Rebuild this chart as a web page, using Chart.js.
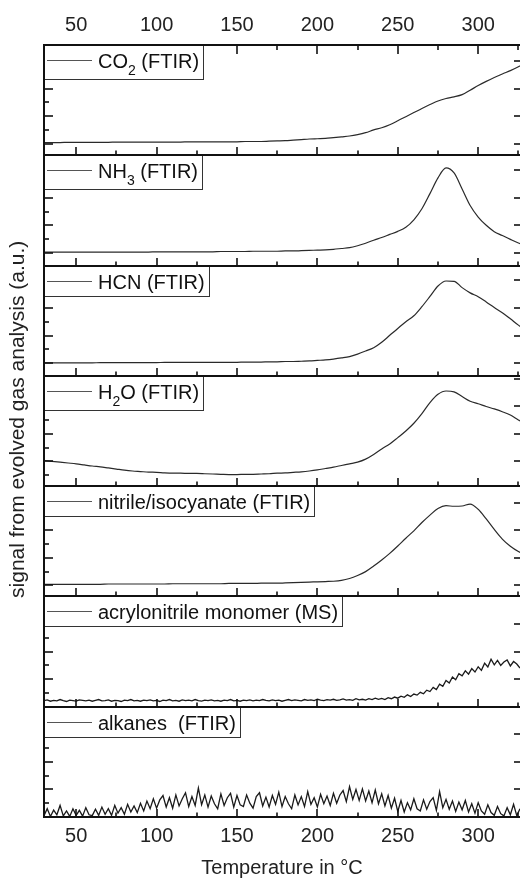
<!DOCTYPE html>
<html>
<head>
<meta charset="utf-8">
<script src="https://cdn.jsdelivr.net/npm/chart.js@4"></script>
<style>
  html, body { margin: 0; padding: 0; background: #fff; }
  #wrap { width: 520px; height: 880px; }
</style>
</head>
<body>
<div id="wrap"><canvas id="grafico" width="520" height="880"></canvas></div>
<script>
// temperatures (°C), 5 degree grid for the FTIR curves
const temps = [30,35,40,45,50,55,60,65,70,75,80,85,90,95,100,105,110,115,120,125,
  130,135,140,145,150,155,160,165,170,175,180,185,190,195,200,205,210,215,220,225,
  230,235,240,245,250,255,260,265,270,275,280,285,290,295,300,305,310,315,320,325,330];

const co2 = [0.04,0.04,0.04,0.05,0.05,0.05,0.05,0.05,0.05,0.06,
  0.06,0.06,0.06,0.06,0.06,0.06,0.06,0.06,0.07,0.07,
  0.07,0.07,0.07,0.07,0.07,0.08,0.08,0.08,0.09,0.10,
  0.11,0.13,0.15,0.17,0.18,0.19,0.22,0.25,0.28,0.33,
  0.40,0.50,0.58,0.69,0.83,0.98,1.13,1.28,1.42,1.55,
  1.64,1.70,1.78,1.94,2.11,2.26,2.40,2.53,2.65,2.79,2.95];

const nh3 = [0.03,0.03,0.03,0.03,0.03,0.03,0.03,0.03,0.03,0.03,
  0.03,0.03,0.03,0.03,0.04,0.04,0.04,0.04,0.04,0.04,
  0.04,0.04,0.05,0.05,0.05,0.05,0.06,0.06,0.06,0.06,
  0.07,0.07,0.08,0.09,0.10,0.11,0.13,0.16,0.19,0.26,
  0.35,0.46,0.56,0.67,0.78,0.93,1.20,1.60,2.15,2.72,
  3.08,2.90,2.32,1.72,1.30,1.00,0.77,0.63,0.49,0.36,0.26];

const hcn = [0.01,0.01,0.01,0.01,0.01,0.01,0.01,0.02,0.02,0.02,
  0.02,0.02,0.02,0.02,0.02,0.03,0.03,0.03,0.03,0.03,
  0.03,0.03,0.03,0.03,0.03,0.04,0.04,0.04,0.05,0.05,
  0.06,0.06,0.07,0.08,0.10,0.12,0.15,0.19,0.24,0.33,
  0.44,0.56,0.76,1.01,1.26,1.50,1.72,2.05,2.42,2.80,
  2.98,2.97,2.74,2.55,2.41,2.22,2.02,1.83,1.61,1.38,1.18];

const h2o = [0.03,0.00,-0.03,-0.06,-0.09,-0.13,-0.17,-0.20,-0.24,-0.28,
  -0.32,-0.35,-0.37,-0.39,-0.40,-0.42,-0.43,-0.43,-0.44,-0.44,
  -0.45,-0.46,-0.47,-0.48,-0.48,-0.47,-0.47,-0.46,-0.45,-0.43,
  -0.42,-0.40,-0.38,-0.35,-0.31,-0.26,-0.21,-0.15,-0.09,-0.03,
  0.08,0.25,0.45,0.63,0.86,1.10,1.38,1.73,2.13,2.43,
  2.55,2.52,2.35,2.18,2.09,1.99,1.90,1.80,1.68,1.50,1.35];

const nitrile = [0.04,0.04,0.04,0.04,0.04,0.04,0.04,0.04,0.05,0.05,
  0.05,0.05,0.05,0.05,0.05,0.05,0.06,0.06,0.06,0.06,
  0.06,0.06,0.06,0.07,0.07,0.07,0.07,0.08,0.08,0.08,
  0.09,0.10,0.11,0.12,0.13,0.14,0.15,0.18,0.25,0.36,
  0.50,0.70,0.92,1.16,1.43,1.71,1.98,2.28,2.55,2.79,
  2.89,2.87,2.88,2.95,2.76,2.41,2.03,1.68,1.42,1.23,1.10];

// 2 degree grid for the noisy signals
const tempsFine = [30,32,34,36,38,40,42,44,46,48,
  50,52,54,56,58,60,62,64,66,68,
  70,72,74,76,78,80,82,84,86,88,
  90,92,94,96,98,100,102,104,106,108,
  110,112,114,116,118,120,122,124,126,128,
  130,132,134,136,138,140,142,144,146,148,
  150,152,154,156,158,160,162,164,166,168,
  170,172,174,176,178,180,182,184,186,188,
  190,192,194,196,198,200,202,204,206,208,
  210,212,214,216,218,220,222,224,226,228,
  230,232,234,236,238,240,242,244,246,248,
  250,252,254,256,258,260,262,264,266,268,
  270,272,274,276,278,280,282,284,286,288,
  290,292,294,296,298,300,302,304,306,308,
  310,312,314,316,318,320,322,324,326,328,330];

const acrylonitrile = [0.22,0.25,0.20,0.23,0.21,0.26,0.22,0.19,0.24,0.22,
  0.20,0.25,0.23,0.21,0.24,0.20,0.23,0.26,0.21,0.22,
  0.25,0.20,0.23,0.22,0.19,0.24,0.22,0.26,0.21,0.23,
  0.20,0.24,0.22,0.25,0.21,0.23,0.19,0.24,0.22,0.26,
  0.21,0.23,0.20,0.25,0.22,0.24,0.21,0.26,0.22,0.20,
  0.24,0.22,0.25,0.21,0.23,0.20,0.24,0.22,0.26,0.21,
  0.23,0.20,0.24,0.22,0.25,0.21,0.24,0.22,0.26,0.23,
  0.21,0.25,0.22,0.24,0.20,0.23,0.26,0.22,0.25,0.23,
  0.21,0.26,0.23,0.25,0.22,0.27,0.24,0.22,0.26,0.24,
  0.27,0.23,0.25,0.28,0.24,0.26,0.23,0.29,0.25,0.27,
  0.24,0.29,0.26,0.31,0.27,0.30,0.26,0.33,0.29,0.35,
  0.31,0.38,0.34,0.43,0.37,0.46,0.42,0.52,0.47,0.60,
  0.55,0.70,0.62,0.82,0.74,0.95,0.86,1.08,0.98,1.20,
  1.12,1.30,1.18,1.38,1.26,1.45,1.32,1.58,1.44,1.72,
  1.52,1.68,1.50,1.62,1.70,1.48,1.64,1.55,1.40,1.52,1.30];

const alkanes = [0.05,0.30,0.02,0.25,0.08,0.42,0.04,0.22,0.02,0.30,
  0.06,0.24,0.03,0.34,0.08,0.05,0.28,0.06,0.36,0.10,
  0.30,0.06,0.42,0.14,0.34,0.10,0.46,0.18,0.40,0.16,
  0.50,0.22,0.58,0.30,0.66,0.32,0.62,0.78,0.36,0.70,
  0.32,0.80,0.40,0.66,0.88,0.38,0.74,0.42,1.05,0.45,
  0.80,0.36,0.76,0.48,0.30,0.84,0.42,0.70,0.86,0.36,
  0.78,0.44,0.38,0.80,0.50,0.32,0.74,0.88,0.40,0.72,
  0.36,0.78,0.46,0.90,0.38,0.74,0.48,0.30,0.80,0.44,
  0.74,0.38,0.92,0.46,0.70,0.36,0.82,0.48,0.76,0.42,
  0.86,0.50,0.80,0.96,0.56,1.10,0.64,1.00,0.60,1.02,
  0.58,0.94,0.52,0.98,0.48,0.84,0.40,0.78,0.32,0.68,
  0.20,0.60,0.18,0.52,0.26,0.66,0.30,0.22,0.62,0.28,
  0.56,0.70,0.24,0.92,0.34,0.64,0.28,0.58,0.20,0.54,
  0.26,0.60,0.18,0.48,0.14,0.52,0.22,0.10,0.44,0.16,
  0.06,0.38,0.12,0.04,0.34,0.08,0.46,0.05,0.30,0.03,0.22];

const panelLabels = ['CO₂ (FTIR)', 'NH₃ (FTIR)', 'HCN (FTIR)', 'H₂O (FTIR)',
  'nitrile/isocyanate (FTIR)', 'acrylonitrile monomer (MS)', 'alkanes  (FTIR)'];
const panelMin = [-0.42, -0.46, -0.46, -0.9, -0.4, 0, 0];
const panelSpan = 4;

const xMajor = [50, 100, 150, 200, 250, 300];
const xMinor = [75, 125, 175, 225, 275, 325];

const seriesData = [co2, nh3, hcn, h2o, nitrile, acrylonitrile, alkanes];
const seriesTemps = [temps, temps, temps, temps, temps, tempsFine, tempsFine];

const FONT = '"Liberation Sans", Arial, sans-serif';

// datasets, one per panel
const datasets = seriesData.map((vals, i) => ({
  label: panelLabels[i],
  data: vals.map((v, k) => ({ x: seriesTemps[i][k], y: v })),
  xAxisID: 'x',
  yAxisID: 'y' + i,
  borderColor: i < 5 ? '#2a2a2a' : '#1a1a1a',
  borderWidth: i < 5 ? 1.2 : 1.3,
  pointRadius: 0,
  fill: false,
  cubicInterpolationMode: i < 5 ? 'monotone' : 'default',
  tension: 0
}));

const yScales = {};
panelLabels.forEach((lab, i) => {
  yScales['y' + i] = {
    type: 'linear',
    position: 'left',
    stack: 'panels',
    stackWeight: 1,
    weight: panelLabels.length - i,
    min: panelMin[i],
    max: panelMin[i] + panelSpan,
    afterBuildTicks: s => {
      const t = [];
      for (let v = Math.ceil(s.min * 2) / 2; v <= s.max + 1e-9; v += 0.5) t.push({ value: v });
      s.ticks = t;
    },
    afterFit: s => { s.width = 44; },
    ticks: { display: false },
    grid: { display: false, drawTicks: false },
    border: { display: false },
    title: {
      display: i === 3,
      // leading spaces lift the centred title a little, as in the original
      text: '    signal from evolved gas analysis (a.u.)',
      color: '#222',
      font: { family: FONT, size: 21 },
      padding: { top: 6, bottom: 0 }
    }
  };
});

function xAxis(position, height, pad) {
  return {
    type: 'linear',
    position: position,
    min: 30,
    max: 326,
    afterBuildTicks: s => { s.ticks = xMajor.map(v => ({ value: v })); },
    afterFit: s => { s.height = height; },
    ticks: { color: '#222', font: { family: FONT, size: 20 }, padding: pad, autoSkip: false, maxRotation: 0, minRotation: 0 },
    grid: { display: false, drawTicks: false },
    border: { display: false },
    title: {
      display: position === 'bottom',
      text: 'Temperature in °C',
      color: '#222',
      font: { family: FONT, size: 20 },
      padding: { top: 0, bottom: 0 }
    }
  };
}

function drawLegend(ctx, label, top, left) {
  const subs = '₀₁₂₃₄₅₆₇₈₉';
  // split label into normal / subscript runs
  const runs = [];
  for (const ch of label) {
    const si = subs.indexOf(ch);
    const sub = si >= 0;
    const c = sub ? String(si) : ch;
    if (runs.length && runs[runs.length - 1].sub === sub) runs[runs.length - 1].text += c;
    else runs.push({ text: c, sub: sub });
  }
  const hasSub = runs.some(r => r.sub);
  let w = 0;
  runs.forEach(r => {
    ctx.font = (r.sub ? '14px ' : '20px ') + FONT;
    r.w = ctx.measureText(r.text).width;
    w += r.w;
  });
  const textX = left + 54;
  const right = Math.round(textX + w + 4);
  const h = hasSub ? 34 : 30;
  ctx.fillStyle = '#fff';
  ctx.fillRect(left, top, right - left, h);
  ctx.strokeStyle = '#333';
  ctx.lineWidth = 1;
  ctx.strokeRect(left + 0.5, top + 0.5, right - left, h);
  // line sample
  ctx.strokeStyle = '#555';
  ctx.beginPath();
  ctx.moveTo(left + 3, top + 15.5);
  ctx.lineTo(left + 48, top + 15.5);
  ctx.stroke();
  // text
  ctx.fillStyle = '#111';
  ctx.textBaseline = 'alphabetic';
  ctx.textAlign = 'left';
  let x = textX;
  const base = top + 22.5;
  runs.forEach(r => {
    ctx.font = (r.sub ? '14px ' : '20px ') + FONT;
    ctx.fillText(r.text, x, r.sub ? base + 7 : base);
    x += r.w;
  });
}

const painelPlugin = {
  id: 'painel',
  afterDatasetsDraw(chart) {
    const ctx = chart.ctx;
    const area = chart.chartArea;
    const xs = chart.scales.x;
    ctx.save();
    ctx.strokeStyle = '#111';
    ctx.lineWidth = 1.6;
    const seg = (x1, y1, x2, y2) => {
      ctx.beginPath();
      ctx.moveTo(x1, y1);
      ctx.lineTo(x2, y2);
      ctx.stroke();
    };

    // ticks
    panelLabels.forEach((lab, i) => {
      const ys = chart.scales['y' + i];
      ys.ticks.forEach(t => {
        const py = Math.round(ys.getPixelForValue(t.value));
        const major = Math.abs(t.value - Math.round(t.value)) < 1e-6;
        seg(area.left, py, area.left + (major ? 9 : 5), py);
        if (major) seg(area.right - 6, py, area.right, py);
      });
      const bottom = Math.round(ys.bottom);
      xMajor.forEach(v => { const px = Math.round(xs.getPixelForValue(v)); seg(px, bottom, px, bottom - 8); });
      xMinor.forEach(v => { const px = Math.round(xs.getPixelForValue(v)); seg(px, bottom, px, bottom - 4.5); });
    });
    const top = Math.round(area.top);
    xMajor.forEach(v => { const px = Math.round(xs.getPixelForValue(v)); seg(px, top, px, top + 9); });
    xMinor.forEach(v => { const px = Math.round(xs.getPixelForValue(v)); seg(px, top, px, top + 5); });

    // legends
    chart.data.datasets.forEach((ds, i) => {
      drawLegend(ctx, ds.label, Math.round(chart.scales['y' + i].top), Math.round(area.left));
    });

    // frames
    ctx.strokeStyle = '#111';
    ctx.lineWidth = 2;
    seg(Math.round(area.left), Math.round(area.top), Math.round(area.left), Math.round(area.bottom));
    seg(Math.round(area.left) - 1, Math.round(area.top), area.right, Math.round(area.top));
    panelLabels.forEach((lab, i) => {
      const b = Math.round(chart.scales['y' + i].bottom);
      seg(Math.round(area.left) - 1, b, area.right, b);
    });
    ctx.restore();
  }
};

new Chart(document.getElementById('grafico').getContext('2d'), {
  type: 'line',
  data: { datasets: datasets },
  options: {
    responsive: false,
    animation: false,
    devicePixelRatio: 1,
    layout: { padding: 0 },
    plugins: {
      legend: { display: false },
      tooltip: { enabled: false },
      title: { display: false }
    },
    scales: Object.assign({ x: xAxis('bottom', 63, 7), x2: xAxis('top', 45, 8) }, yScales)
  },
  plugins: [painelPlugin]
});
</script>
</body>
</html>
